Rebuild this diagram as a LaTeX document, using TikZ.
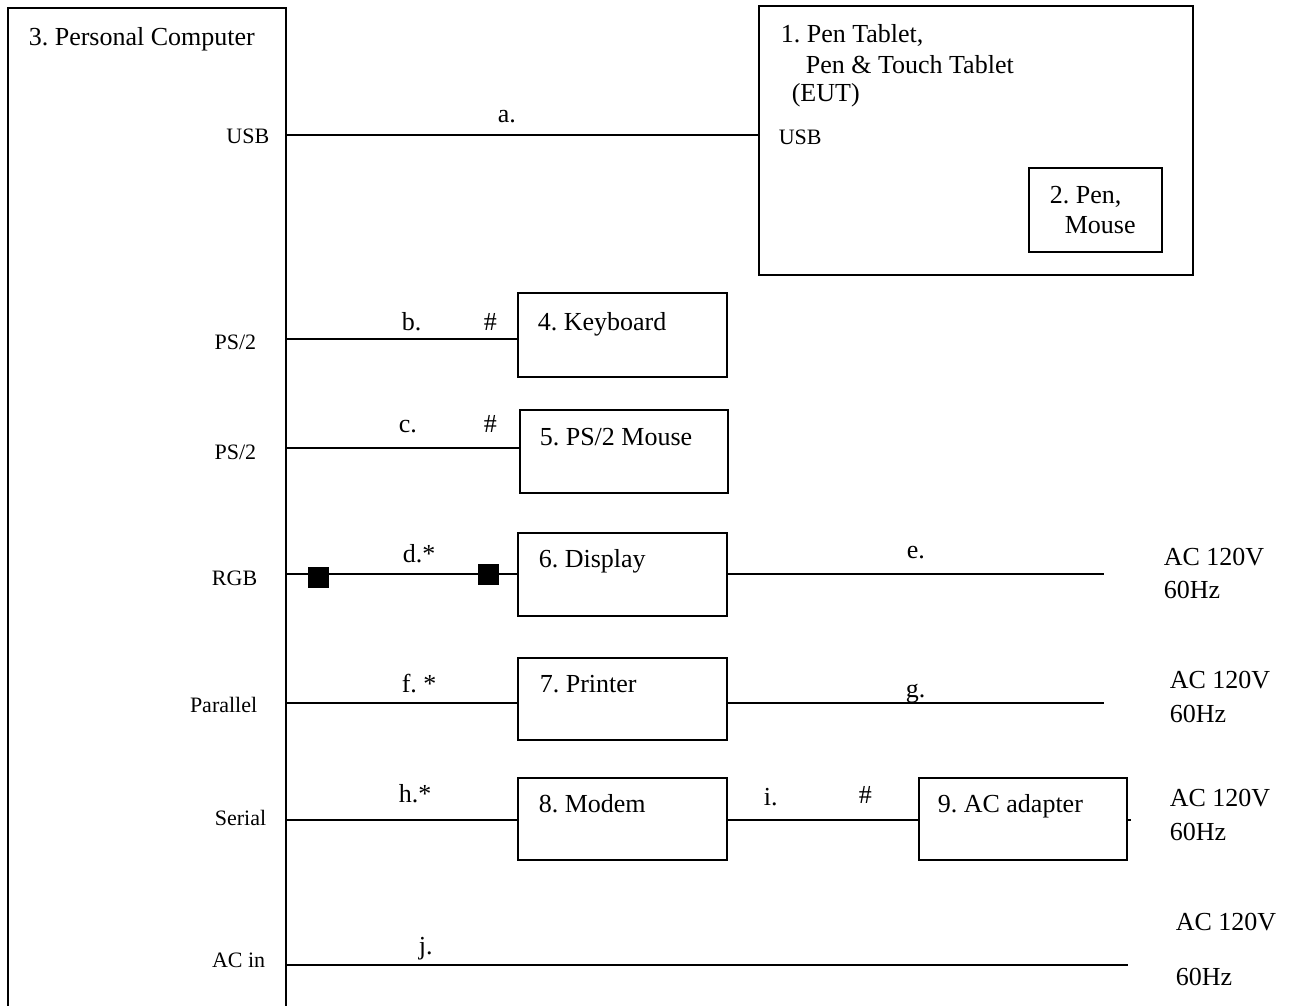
\documentclass[tikz,border=0pt]{standalone}
\usepackage{fontspec}
\setmainfont{Liberation Serif}
\frenchspacing
\begin{document}
\begin{tikzpicture}[x=1pt,y=-1pt,line width=1.6pt,
  big/.style={font=\fontsize{26}{30}\selectfont,inner sep=0pt,anchor=base west},
  small/.style={font=\fontsize{22}{26}\selectfont,inner sep=0pt,anchor=base west},
  port/.style={font=\fontsize{22}{26}\selectfont,inner sep=0pt,anchor=base east},
  box/.style={draw,line width=1.6pt,inner sep=0pt,outer sep=0pt},
  blk/.style={fill=black,draw=none,minimum size=21pt,inner sep=0pt,outer sep=0pt},
  wire/.style={line width=1.6pt}]
\useasboundingbox (0,0) rectangle (1295,1005);
\clip (0,0) rectangle (1295,1005);
% boxes
\node[box,minimum width=278pt,minimum height=1022pt] (pc) at (147,519) {};
\node[box,minimum width=434pt,minimum height=269pt] (tab) at (976,140.5) {};
\node[box,minimum width=133pt,minimum height=84pt] (pen) at (1095.5,210) {};
\node[box,minimum width=209pt,minimum height=84pt] (kb) at (622.5,335) {};
\node[box,minimum width=208pt,minimum height=83pt] (ms) at (624,451.5) {};
\node[box,minimum width=209pt,minimum height=83pt] (disp) at (622.5,574.5) {};
\node[box,minimum width=209pt,minimum height=82pt] (prn) at (622.5,699) {};
\node[box,minimum width=209pt,minimum height=82pt] (mdm) at (622.5,819) {};
\node[box,minimum width=208pt,minimum height=82pt] (adp) at (1023,819) {};
% line levels
\coordinate (ya) at (0,135);
\coordinate (yb) at (0,339);
\coordinate (yc) at (0,448);
\coordinate (yd) at (0,574);
\coordinate (yf) at (0,703);
\coordinate (yh) at (0,820);
\coordinate (yj) at (0,965);
\coordinate (eend) at (1104,574);
\coordinate (gend) at (1104,703);
\coordinate (stub) at (1131,820);
\coordinate (jend) at (1128,965);
% connectors
\draw[wire] (pc.east |- ya) -- (tab.west |- ya);
\draw[wire] (pc.east |- yb) -- (kb.west |- yb);
\draw[wire] (pc.east |- yc) -- (ms.west |- yc);
\draw[wire] (pc.east |- yd) -- (disp.west |- yd);
\draw[wire] (disp.east |- yd) -- (eend);
\draw[wire] (pc.east |- yf) -- (prn.west |- yf);
\draw[wire] (prn.east |- yf) -- (gend);
\draw[wire] (pc.east |- yh) -- (mdm.west |- yh);
\draw[wire] (mdm.east |- yh) -- (adp.west |- yh);
\draw[wire] (adp.east |- yh) -- (stub);
\draw[wire] (pc.east |- yj) -- (jend);
\node[blk] (sq1) at (318.5,577) {};
\node[blk] (sq2) at (488.5,574.5) {};
% box texts
\node[big] (tpc) at (28,45) {3. Personal Computer};
\node[big] (t1a) at (780,42) {1. Pen Tablet,};
\node[big] (t1b) at (805,73) {Pen \& Touch Tablet};
\node[big] (t1c) at (791,101) {(EUT)};
\node[small] (t1d) at (778,144) {USB};
\node[big] (t2a) at (1049,203) {2. Pen,};
\node[big] (t2b) at (1064,233) {Mouse};
\node[big] (t4) at (537,330) {4. Keyboard};
\node[big] (t5) at (539,445) {5. PS/2 Mouse};
\node[big] (t6) at (538,567) {6. Display};
\node[big] (t7) at (539,692) {7. Printer};
\node[big] (t8) at (538,812) {8. Modem};
\node[big] (t9) at (937,812) {9. AC adapter};
% port labels
\node[port] (pa) at (270,143) {USB};
\node[port] (pb) at (257,349) {PS/2};
\node[port] (pc2) at (257,459) {PS/2};
\node[port] (pd) at (258,585) {RGB};
\node[port] (pf) at (258,712) {Parallel};
\node[port] (ph) at (267,825) {Serial};
\node[port] (pj) at (266,967) {AC in};
% cable labels
\node[big] (la) at (497,122) {a.};
\node[big] (lb) at (401,330) {b.};
\node[big] (hb) at (483,330) {\#};
\node[big] (lc) at (398,432) {c.};
\node[big] (hc) at (483,432) {\#};
\node[big] (ld) at (402,562) {d.*};
\node[big] (le) at (906,558) {e.};
\node[big] (lf) at (401,692) {f. *};
\node[big] (lg) at (905,697) {g.};
\node[big] (lh) at (398,802) {h.*};
\node[big] (li) at (763,805) {i.};
\node[big] (hi) at (858,803) {\#};
\node[big] (lj) at (418,954) {j.};
% mains labels
\node[big] (ac1) at (1163,565) {AC 120V};
\node[big] (hz1) at (1163,598) {60Hz};
\node[big] (ac2) at (1169,688) {AC 120V};
\node[big] (hz2) at (1169,722) {60Hz};
\node[big] (ac3) at (1169,806) {AC 120V};
\node[big] (hz3) at (1169,840) {60Hz};
\node[big] (ac4) at (1175,930) {AC 120V};
\node[big] (hz4) at (1175,985) {60Hz};
\end{tikzpicture}
\end{document}
